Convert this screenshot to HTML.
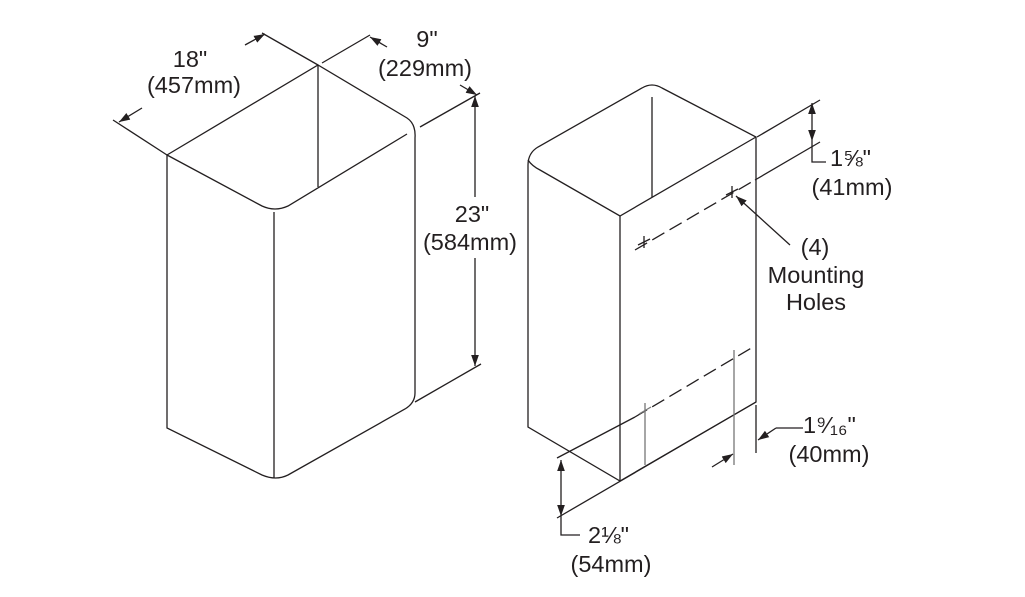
<!DOCTYPE html>
<html><head><meta charset="utf-8"><style>
html,body{margin:0;padding:0;background:#fff;}
svg{display:block;}
text{font-family:"Liberation Sans",Arial,sans-serif;font-size:23.5px;fill:#231f20;}
</style></head><body>
<svg width="1025" height="597" viewBox="0 0 1025 597" xmlns="http://www.w3.org/2000/svg">
<defs>
<marker id="a" viewBox="0 0 10 10" refX="10" refY="5" markerWidth="11" markerHeight="11" markerUnits="userSpaceOnUse" orient="auto"><path d="M0,1.5 L10,5 L0,8.5 Z" fill="#231f20"/></marker>
</defs>
<g fill="none" stroke="#231f20" stroke-width="1.3">
<path d="M167,155 L318,65 L407,118 Q416,124 415,138 L415,393 Q415,403 405,409 L288,475 Q276,481 262,475 L167,428 Z"/>
<path d="M167,155 L262,206 Q275,212 288,206 L407,134"/>
<line x1="318" y1="65" x2="318" y2="187"/>
<line x1="274" y1="212" x2="274" y2="478"/>
<line x1="167" y1="155" x2="113" y2="120"/>
<line x1="318" y1="65" x2="262" y2="33"/>
<line x1="142" y1="108" x2="119" y2="122" marker-end="url(#a)"/>
<line x1="245" y1="45" x2="265" y2="34" marker-end="url(#a)"/>
<line x1="322" y1="63" x2="370" y2="35"/>
<line x1="420" y1="127" x2="480" y2="93"/>
<line x1="387" y1="47" x2="370" y2="37" marker-end="url(#a)"/>
<line x1="460" y1="85" x2="477" y2="95" marker-end="url(#a)"/>
<line x1="475" y1="197" x2="475" y2="96" marker-end="url(#a)"/>
<line x1="475" y1="258" x2="475" y2="366" marker-end="url(#a)"/>
<line x1="415" y1="402" x2="481" y2="364"/>

<path d="M528,427 L528,165 Q528,153 538,147 L642,88 Q652,82 662,88 L756,137 L756,402 L620,481 Z"/>
<path d="M528,160 Q532,166 540,170 L620,216 L756,137"/>
<line x1="652" y1="97" x2="652" y2="197"/>
<line x1="620" y1="216" x2="620" y2="481"/>
<line x1="757" y1="137" x2="820" y2="100"/>
<line x1="755" y1="180" x2="820" y2="142"/>
<line x1="635" y1="250" x2="755" y2="180" stroke-dasharray="14,6"/>
<line x1="644" y1="236" x2="644" y2="248"/><line x1="638" y1="245" x2="650" y2="239"/>
<line x1="732" y1="186" x2="732" y2="198"/><line x1="726" y1="195" x2="738" y2="189"/>
<line x1="812" y1="122" x2="812" y2="103" marker-end="url(#a)"/>
<line x1="812" y1="122" x2="812" y2="141" marker-end="url(#a)"/>
<polyline points="812,141 812,162 826,162"/>
<line x1="790" y1="245" x2="736" y2="196" marker-end="url(#a)"/>
<line x1="557" y1="458" x2="635" y2="417"/>
<line x1="635" y1="417" x2="753" y2="347" stroke-dasharray="14,6"/>
<line x1="557" y1="518" x2="756" y2="402"/>
<line x1="645" y1="403" x2="645" y2="465" stroke="#777"/>
<line x1="639" y1="414" x2="651" y2="407" stroke="#777"/>
<line x1="734" y1="350" x2="734" y2="465" stroke="#777"/>
<line x1="756" y1="405" x2="756" y2="453"/>
<polyline points="803,428 776,428"/>
<line x1="776" y1="428" x2="758" y2="440" marker-end="url(#a)"/>
<line x1="712" y1="467" x2="733" y2="454" marker-end="url(#a)"/>
<line x1="561" y1="488" x2="561" y2="460" marker-end="url(#a)"/>
<line x1="561" y1="488" x2="561" y2="516" marker-end="url(#a)"/>
<polyline points="561,516 561,535 580,535"/>
</g>
<text x="190" y="67" text-anchor="middle">18"</text>
<text x="194" y="93" text-anchor="middle">(457mm)</text>
<text x="427" y="47" text-anchor="middle">9"</text>
<text x="425" y="76" text-anchor="middle">(229mm)</text>
<text x="472" y="222" text-anchor="middle">23"</text>
<text x="470" y="250" text-anchor="middle">(584mm)</text>
<text x="830" y="166">1⅝"</text>
<text x="852" y="195" text-anchor="middle">(41mm)</text>
<text x="815" y="255" text-anchor="middle">(4)</text>
<text x="816" y="283" text-anchor="middle">Mounting</text>
<text x="816" y="310" text-anchor="middle">Holes</text>
<text x="803" y="433">1⁹⁄₁₆"</text>
<text x="829" y="462" text-anchor="middle">(40mm)</text>
<text x="588" y="543">2⅛"</text>
<text x="611" y="572" text-anchor="middle">(54mm)</text>
</svg>
</body></html>
